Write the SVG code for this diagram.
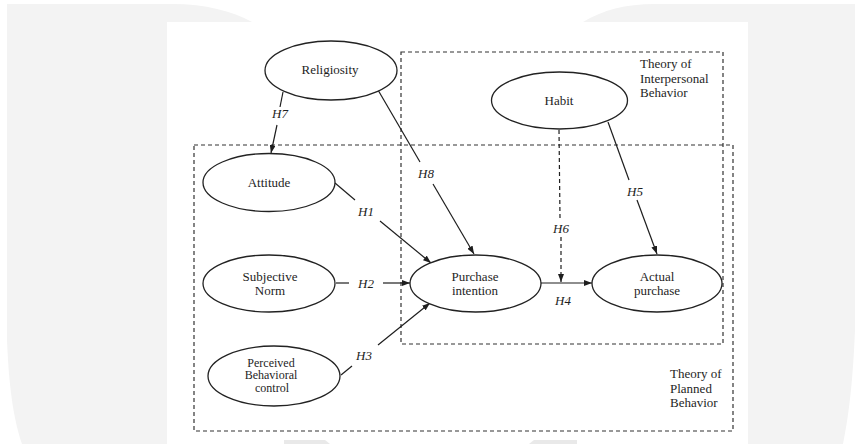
<svg xmlns="http://www.w3.org/2000/svg" width="855" height="444" viewBox="0 0 855 444">
<style>
.bg{fill:#f3f3f3}
.bg2{fill:#e9e9e9}
.n ellipse{fill:#fff;stroke:#222;stroke-width:1.3}
.t{font-family:"Liberation Serif","Times New Roman",serif;font-size:13px;fill:#1e1e1e;text-anchor:middle}
.s{font-size:12px}
.l{font-family:"Liberation Serif","Times New Roman",serif;font-size:13px;fill:#1e1e1e}
.h{font-style:italic}
.e{stroke:#1e1e1e;stroke-width:1.2;fill:none}
.d{stroke-dasharray:4 3}
.box{fill:none;stroke:#333;stroke-width:1.2;stroke-dasharray:4 3}
</style>
<defs>
<marker id="ar" markerUnits="userSpaceOnUse" markerWidth="8" markerHeight="6" refX="8" refY="3" orient="auto">
<path d="M0,0 L8,3 L0,6 Z" fill="#1e1e1e"/>
</marker>
</defs>
<rect width="855" height="444" fill="#fff"/>
<path class="bg" d="M7,4 H173 C205,4 232,11 252,22 V439 H167 V444 H22 C14,420 9,390 7,340 Z"/>
<path class="bg" d="M583,22 C603,10 625,4 655,4 H855 V330 C853,380 849,415 843,444 H748 V22 Z"/>
<path class="bg2" d="M284,440 H325 L330,444 H284 Z"/>
<path class="bg2" d="M529,444 L534,440 H577 V444 Z"/>
<rect x="167" y="22" width="581" height="417" fill="#fff"/>

<g id="boxes">
<rect class="box" x="401" y="52" width="322" height="292"/>
<rect class="box" x="194" y="145" width="539" height="286"/>
<text class="l" x="640" y="68">Theory of</text>
<text class="l" x="640" y="83">Interpersonal</text>
<text class="l" x="640" y="97">Behavior</text>
<text class="l" x="670" y="378">Theory of</text>
<text class="l" x="670" y="393">Planned</text>
<text class="l" x="670" y="407">Behavior</text>
</g>

<g id="connectors">
<line class="e" x1="283" y1="92" x2="280" y2="107"/>
<line class="e" x1="277" y1="125" x2="271" y2="153" marker-end="url(#ar)"/>
<text class="t h" x="280" y="118">H7</text>

<line class="e" x1="378" y1="90" x2="420" y2="162"/>
<line class="e" x1="433" y1="184" x2="474" y2="254" marker-end="url(#ar)"/>
<text class="t h" x="426" y="178">H8</text>

<line class="e" x1="335" y1="183" x2="355" y2="200"/>
<line class="e" x1="380" y1="221" x2="431" y2="263" marker-end="url(#ar)"/>
<text class="t h" x="366" y="216">H1</text>

<line class="e" x1="336" y1="283" x2="349" y2="283"/>
<line class="e" x1="383" y1="283" x2="410" y2="283" marker-end="url(#ar)"/>
<text class="t h" x="366" y="288">H2</text>

<line class="e" x1="341" y1="375" x2="352" y2="366"/>
<line class="e" x1="378" y1="345" x2="430" y2="303" marker-end="url(#ar)"/>
<text class="t h" x="364" y="360">H3</text>

<line class="e" x1="541" y1="283" x2="592" y2="283" marker-end="url(#ar)"/>
<text class="t h" x="563" y="305">H4</text>

<line class="e d" x1="559" y1="130" x2="560" y2="218"/>
<line class="e d" x1="561" y1="237" x2="561" y2="282" marker-end="url(#ar)"/>
<text class="t h" x="561" y="233">H6</text>

<line class="e" x1="608" y1="122" x2="629" y2="180"/>
<line class="e" x1="637" y1="200" x2="657" y2="254" marker-end="url(#ar)"/>
<text class="t h" x="635" y="196">H5</text>
</g>

<g id="religiosity" class="n"><ellipse cx="331" cy="70.5" rx="66" ry="29.5"/><text class="t" x="330" y="74">Religiosity</text></g>
<g id="attitude" class="n"><ellipse cx="269" cy="182.5" rx="66" ry="29"/><text class="t" x="269" y="187">Attitude</text></g>
<g id="subjective-norm" class="n"><ellipse cx="269" cy="283.5" rx="66" ry="28.5"/><text class="t" x="270" y="281">Subjective</text><text class="t" x="270" y="295">Norm</text></g>
<g id="pbc" class="n"><ellipse cx="274" cy="376" rx="66" ry="30"/><text class="t s" x="271" y="366.5">Perceived</text><text class="t s" x="271" y="379">Behavioral</text><text class="t s" x="272" y="391.5">control</text></g>
<g id="purchase-intention" class="n"><ellipse cx="475.5" cy="283.5" rx="65.5" ry="28.5"/><text class="t" x="475" y="281">Purchase</text><text class="t" x="475" y="295">intention</text></g>
<g id="actual-purchase" class="n"><ellipse cx="657" cy="283.5" rx="65" ry="28.5"/><text class="t" x="657" y="281">Actual</text><text class="t" x="657" y="295">purchase</text></g>
<g id="habit" class="n"><ellipse cx="559.5" cy="100.5" rx="68" ry="28.5"/><text class="t" x="559" y="105">Habit</text></g>
</svg>
